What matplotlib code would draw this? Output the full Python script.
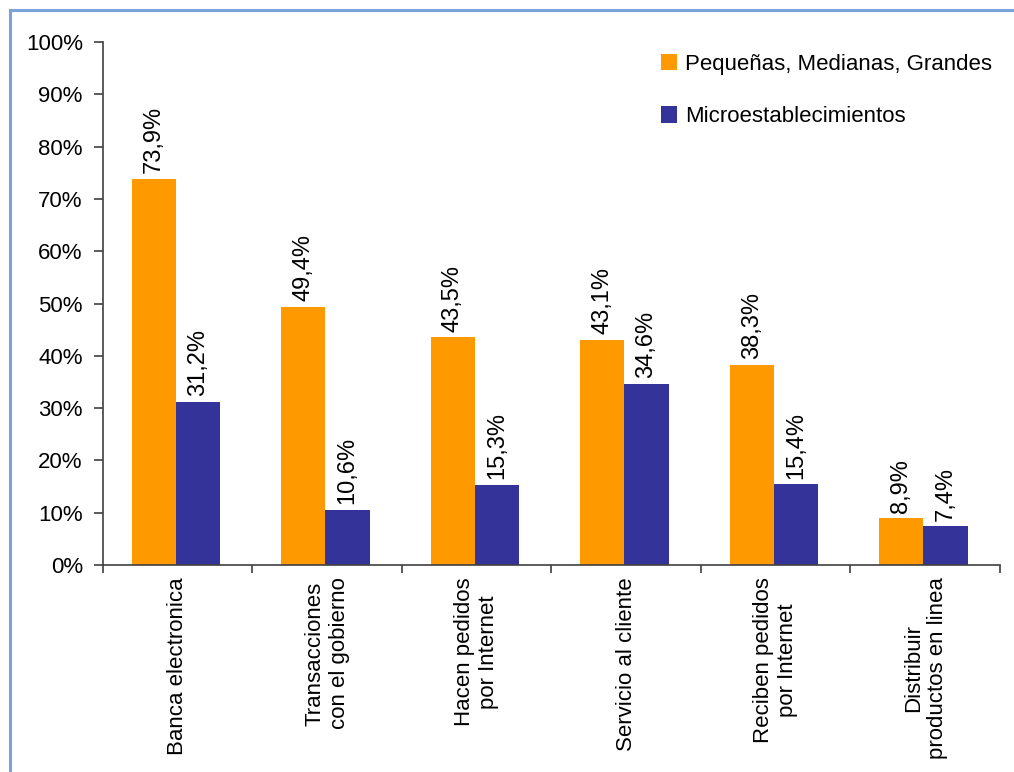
import numpy as np
import matplotlib.pyplot as plt
from matplotlib.lines import Line2D
from matplotlib.ticker import FixedLocator, PercentFormatter

plt.rcParams['font.family'] = ['Liberation Sans', 'DejaVu Sans']

categories = [
    "Banca electronica",
    "Transacciones\ncon el gobierno",
    "Hacen pedidos\npor Internet",
    "Servicio al cliente",
    "Reciben pedidos\npor Internet",
    "Distribuir\nproductos en linea",
]
series_names = ["Pequeñas, Medianas, Grandes", "Microestablecimientos"]
pymes = [73.9, 49.4, 43.5, 43.1, 38.3, 8.9]
micro = [31.2, 10.6, 15.3, 34.6, 15.4, 7.4]

orange = "#FF9900"
navy = "#333399"
fs = 16

fig = plt.figure(figsize=(10.14, 7.72), dpi=100)
ax = fig.add_axes([103 / 1014, 207 / 772, 897 / 1014, 523 / 772])

x = np.arange(len(categories)) + 0.5
w = 0.295
b1 = ax.bar(x - w / 2 - 0.012, pymes, w, color=orange, label=series_names[0], zorder=2)
b2 = ax.bar(x + w / 2 - 0.012, micro, w, color=navy, label=series_names[1], zorder=2)

for bars, vals in ((b1, pymes), (b2, micro)):
    for rect, v in zip(bars, vals):
        ax.annotate(f"{v:.1f}%".replace(".", ","),
                    (rect.get_x() + rect.get_width() / 2, v),
                    xytext=(0, 4), textcoords="offset points",
                    rotation=90, ha="center", va="bottom", fontsize=17)

ax.set_xlim(0, len(categories))
ax.set_ylim(0, 100)
ax.yaxis.set_major_locator(FixedLocator(np.arange(0, 101, 10)))
ax.yaxis.set_major_formatter(PercentFormatter(decimals=0))

# group boundaries get the ticks, category names sit between them
ax.xaxis.set_major_locator(FixedLocator(np.arange(len(categories) + 1)))
ax.xaxis.set_minor_locator(FixedLocator(x))
ax.set_xticklabels([], minor=False)
ax.set_xticklabels(categories, minor=True, rotation=90, ha="center",
                   va="top", multialignment="center", fontsize=fs)
ax.tick_params(axis="x", which="major", length=6, width=1.2, color="#404040")
ax.tick_params(axis="x", which="minor", length=0, pad=9)
ax.tick_params(axis="y", length=6.5, width=1.2, color="#404040", labelsize=fs, pad=8)

for side in ("top", "right"):
    ax.spines[side].set_visible(False)
for side in ("left", "bottom"):
    ax.spines[side].set_color("#404040")
    ax.spines[side].set_linewidth(1.2)

ax.legend(loc="upper left", bbox_to_anchor=(0.602, 1.011), frameon=False,
          fontsize=fs, handlelength=0.75, handleheight=0.75,
          handletextpad=0.35, labelspacing=1.4, borderpad=0.3)

# light blue frame along the top and left edges
fx, fy = 10 / 1014, 1 - 10 / 772
frame = dict(transform=fig.transFigure, color="#7BA3D8", linewidth=2.2)
fig.lines.append(Line2D([fx, 1.0], [fy, fy], **frame))
fig.lines.append(Line2D([fx, fx], [0.0, fy], **frame))

fig.savefig("out.png", dpi=100)
